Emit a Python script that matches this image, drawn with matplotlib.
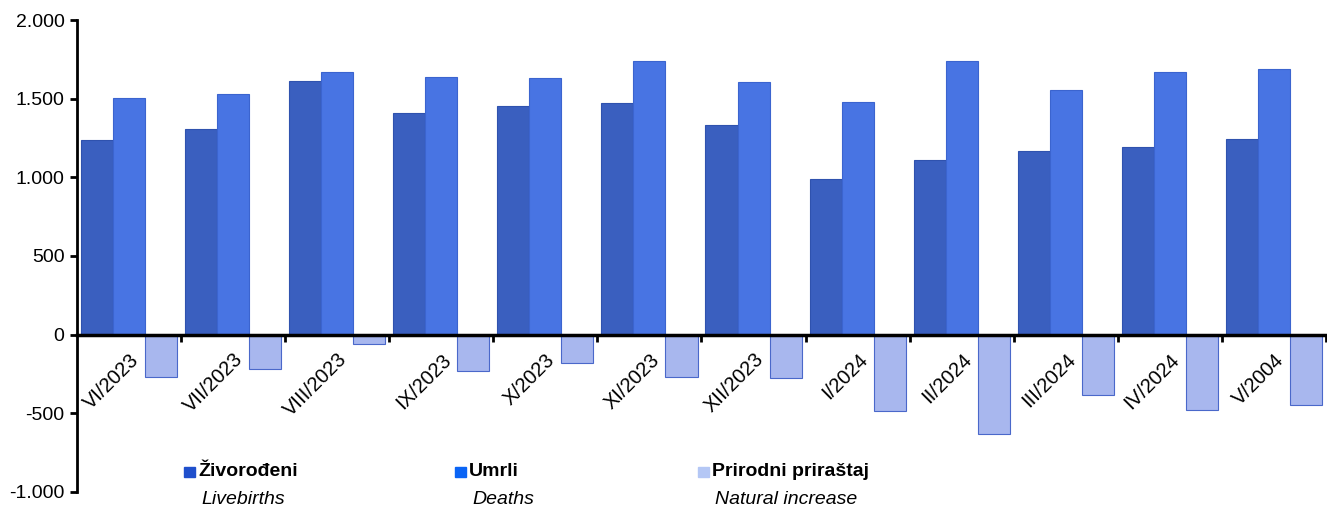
import matplotlib.pyplot as plt
import matplotlib.ticker as mticker
from matplotlib.patches import Rectangle
import numpy as np

plt.rcParams['font.family'] = ['Liberation Sans', 'DejaVu Sans']

# DATA
months = ["VI/2023", "VII/2023", "VIII/2023", "IX/2023", "X/2023", "XI/2023",
          "XII/2023", "I/2024", "II/2024", "III/2024", "IV/2024", "V/2004"]
livebirths = [1238, 1308, 1613, 1407, 1452, 1473, 1331, 990, 1113, 1168, 1191, 1244]
deaths = [1505, 1528, 1672, 1640, 1634, 1742, 1606, 1478, 1742, 1553, 1668, 1689]
natural = [-267, -220, -59, -233, -182, -269, -275, -488, -629, -385, -477, -445]

# Colors
c_birth, e_birth = "#3A5FBF", "#2F52AE"
c_death, e_death = "#4874E3", "#3B64CF"
c_nat, e_nat = "#A8B7EE", "#4A68CA"

fig = plt.figure(figsize=(13.27, 5.12), dpi=100)
ax = fig.add_axes([77 / 1327, 20 / 512, 1249 / 1327, 472 / 512])

x = np.arange(len(months))
w = 0.308
ax.bar(x - w, livebirths, w, color=c_birth, edgecolor=e_birth, linewidth=0.8, zorder=2)
ax.bar(x, deaths, w, color=c_death, edgecolor=e_death, linewidth=0.8, zorder=2)
ax.bar(x + w, natural, w, color=c_nat, edgecolor=e_nat, linewidth=0.8, zorder=2)

ax.set_xlim(-0.5, len(months) - 0.5)
ax.set_ylim(-1000, 2000)
ax.set_yticks(np.arange(-1000, 2001, 500))
ax.yaxis.set_major_formatter(mticker.FuncFormatter(lambda v, p: f"{int(v):,}".replace(",", ".")))

# Spines
for s in ["top", "right"]:
    ax.spines[s].set_visible(False)
ax.spines["left"].set_linewidth(2)
ax.spines["bottom"].set_position(("data", 0))
ax.spines["bottom"].set_linewidth(2.5)
ax.spines["bottom"].set_zorder(3)

ax.tick_params(axis="y", direction="out", length=5, width=2, labelsize=14, pad=4)
ax.set_xticks(x)
ax.set_xticks(np.arange(0.5, len(months), 1), minor=True)
ax.tick_params(axis="x", which="major", length=0, pad=11, labelsize=14.5)
ax.tick_params(axis="x", which="minor", direction="out", length=5, width=2)
ax.set_xticklabels(months, rotation=45, ha="right", va="top", rotation_mode="anchor")

# Legend (drawn manually)
legend_items = [
    (184, "Živorođeni", "Livebirths", "#1F4FCC"),
    (455, "Umrli", "Deaths", "#0A64F5"),
    (698, "Prirodni priraštaj", "Natural increase", "#B4C7F5"),
]
W, H = 1327.0, 512.0
for px, bold, italic, col in legend_items:
    fig.patches.append(Rectangle((px / W, 1 - 477 / H), 11 / W, 10 / H,
                                 transform=fig.transFigure, color=col))
    fig.text((px + 14) / W, 1 - 472 / H, bold, fontsize=14, fontweight="bold",
             va="center", ha="left")
    fig.text((px + 17) / W, 1 - 500 / H, italic, fontsize=14, style="italic",
             va="center", ha="left")

plt.savefig("out.png", dpi=100)
